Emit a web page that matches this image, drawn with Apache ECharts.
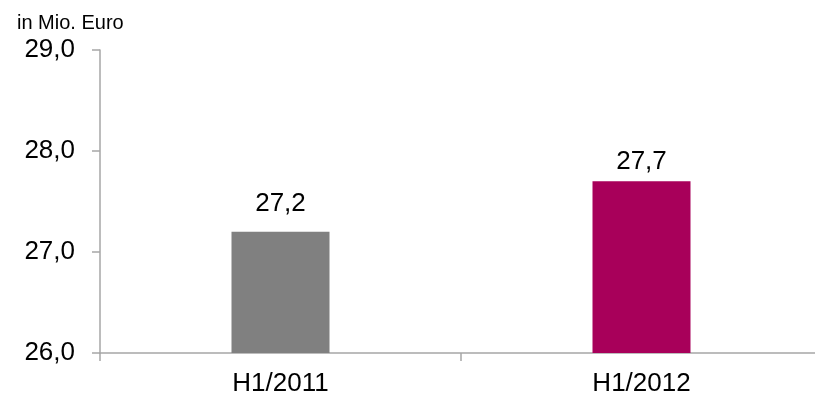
<!DOCTYPE html>
<html>
<head>
<meta charset="utf-8">
<script src="https://cdn.jsdelivr.net/npm/echarts@6/dist/echarts.min.js"></script>
<style>
  html, body { margin: 0; padding: 0; background: #fff; }
  #chart { width: 815px; height: 396px; }
</style>
</head>
<body>
<div id="chart"></div>
<script>
const categories = ['H1/2011', 'H1/2012']
const values = [27.2, 27.7]
const barColors = ['#808080', '#A8005A']
const unitLabel = 'in Mio. Euro'

// label gap above each bar, as placed in the original
const labelGaps = [15, 6]

const fmt = v => v.toFixed(1).replace('.', ',')
const axisGrey = '#A6A6A6'
const font = '"Liberation Sans", Arial, sans-serif'

const chart = echarts.init(document.getElementById('chart'))
chart.setOption({
  animation: false,
  textStyle: { fontFamily: font },
  title: {
    text: unitLabel,
    left: 12,
    top: 8,
    textStyle: { fontSize: 20, fontWeight: 'normal', color: '#000', fontFamily: font }
  },
  grid: { left: 100, top: 50, width: 722, height: 303, outerBoundsMode: 'none', containLabel: false },
  xAxis: {
    type: 'category',
    data: categories,
    axisLine: { lineStyle: { color: axisGrey, width: 1.5 } },
    axisTick: { show: true, length: 8, lineStyle: { color: axisGrey, width: 1.5 } },
    axisLabel: { fontSize: 26, color: '#000', margin: 18, fontFamily: font }
  },
  yAxis: {
    type: 'value',
    min: 26,
    max: 29,
    interval: 1,
    splitLine: { show: false },
    axisLine: { show: true, lineStyle: { color: axisGrey, width: 1.5 } },
    axisTick: { show: true, length: 8, lineStyle: { color: axisGrey, width: 1.5 } },
    axisLabel: { fontSize: 26, color: '#000', margin: 25, fontFamily: font, formatter: fmt }
  },
  series: [{
    type: 'bar',
    barWidth: 98,
    data: values.map((v, i) => ({
      value: v,
      itemStyle: { color: barColors[i] },
      label: { distance: labelGaps[i] }
    })),
    label: {
      show: true,
      position: 'top',
      fontSize: 26,
      color: '#000',
      fontFamily: font,
      formatter: p => fmt(p.value)
    }
  }]
})
</script>
</body>
</html>
